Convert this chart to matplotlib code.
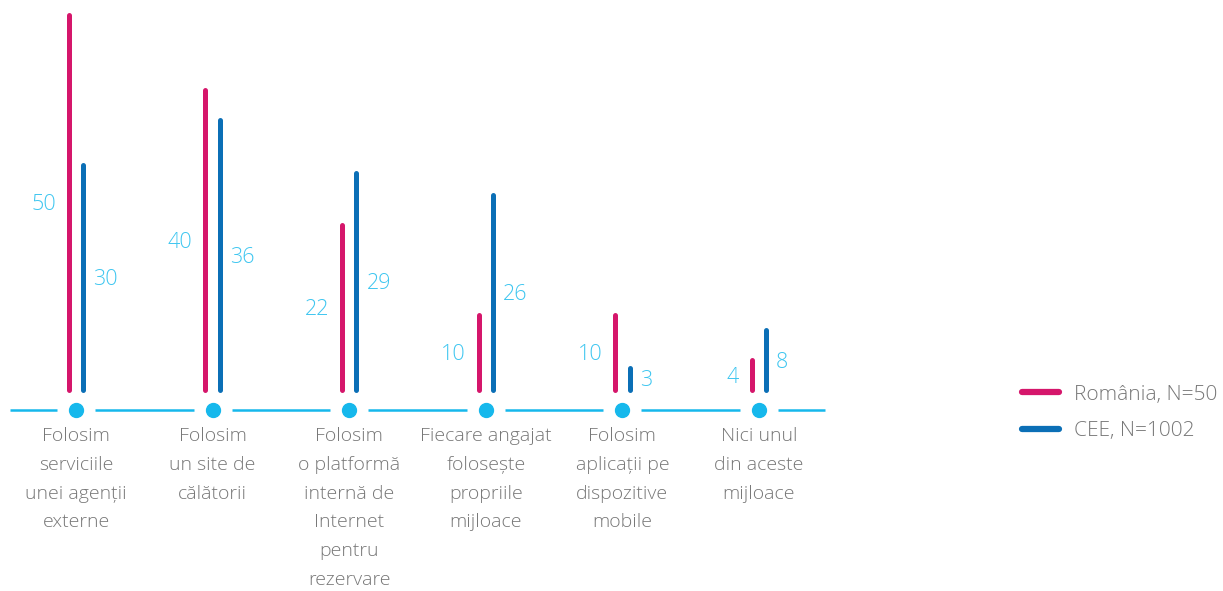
import numpy as np
import matplotlib
matplotlib.use("Agg")
import matplotlib.pyplot as plt

categories = [
    "Folosim\nserviciile\nunei agenții\nexterne",
    "Folosim\nun site de\ncălătorii",
    "Folosim\no platformă\ninternă de\nInternet\npentru\nrezervare",
    "Fiecare angajat\nfolosește\npropriile\nmijloace",
    "Folosim\naplicații pe\ndispozitive\nmobile",
    "Nici unul\ndin aceste\nmijloace",
]
romania = [50, 40, 22, 10, 10, 4]
cee = [30, 36, 29, 26, 3, 8]
series_names = ["România, N=50", "CEE, N=1002"]

RO_COLOR = "#d5166b"
CEE_COLOR = "#0b6fb6"
CYAN = "#16b8ec"
VALUE_COLOR = "#3ec6f0"
GRAY = "#777777"

plt.rcParams["font.family"] = ["Open Sans", "DejaVu Sans"]

fig = plt.figure(figsize=(12.23, 5.91), dpi=100)
ax = fig.add_axes([0, 0, 1, 1])
ax.axis("off")

# 1 unit on x = 136.6 px, 1 unit on y = 7.5 px
ax.set_xlim(-76 / 136.6, (1223 - 76) / 136.6)
ax.set_ylim(-201 / 7.5, 390 / 7.5)

x = np.arange(len(categories))
off = 7.2 / 136.6
lw = 3.6

for i in x:
    ax.plot([i - off, i - off], [0, romania[i]], color=RO_COLOR, lw=lw,
            solid_capstyle="round")
    ax.plot([i + off, i + off], [0, cee[i]], color=CEE_COLOR, lw=lw,
            solid_capstyle="round")
    ax.text(i - off - 13 / 136.6, romania[i] / 2 - 0.3, str(romania[i]),
            ha="right", va="center", fontsize=15.5, color=VALUE_COLOR,
            fontweight="light")
    ax.text(i + off + 10 / 136.6, cee[i] / 2 - 0.3, str(cee[i]),
            ha="left", va="center", fontsize=15.5, color=VALUE_COLOR,
            fontweight="light")

# baseline with gaps around the dots
base_y = -20 / 7.5
gap = 19 / 136.6
ends = np.concatenate([[x[0] - 66 / 136.6], x + gap])
starts = np.concatenate([x - gap, [x[-1] + 66 / 136.6]])
for a, b in zip(ends, starts):
    ax.plot([a, b], [base_y, base_y], color=CYAN, lw=1.8,
            solid_capstyle="butt")
ax.plot(x, [base_y] * len(x), "o", color=CYAN, markersize=10)

for i, label in zip(x, categories):
    ax.text(i, -37 / 7.5, label, ha="center", va="top",
            fontsize=14, color=GRAY, linespacing=1.77, fontweight="light")

handles = [plt.Line2D([], [], color=c, lw=4.5, solid_capstyle="round")
           for c in (RO_COLOR, CEE_COLOR)]
fig.legend(handles, series_names, loc="center left",
           bbox_to_anchor=(1003 / 1223, 1 - 413 / 591), frameon=False,
           handlelength=1.8, handletextpad=0.72, labelspacing=0.8,
           labelcolor=GRAY, prop={"weight": "light", "size": 15})

fig.savefig("out.png", dpi=100)
